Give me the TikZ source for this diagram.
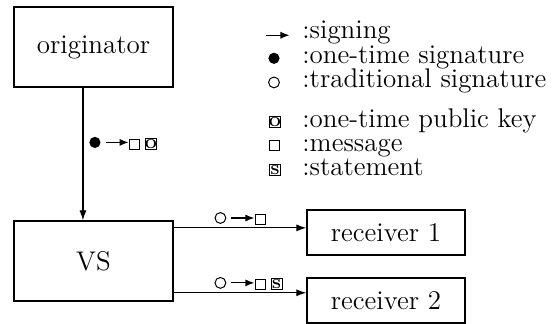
\documentclass[tikz,border=0pt]{standalone}
\usepackage{tikz}
\usetikzlibrary{arrows.meta, calc}

% little symbols used in the labels and in the legend
\newcommand{\signarrow}{\tikz[baseline=-0.6ex]\draw[line width=0.6pt,-{Latex[length=4.5pt,width=3.5pt]}] (0,0) -- (11.5pt,0);}
\newcommand{\otsig}{\tikz[baseline=-0.6ex]\fill (0,0) circle (2.8pt);}
\newcommand{\tradsig}{\tikz[baseline=-0.6ex]\draw[line width=0.5pt] (0,0) circle (2.7pt);}
\newcommand{\msgbox}{\tikz[baseline=0pt]\draw[line width=0.5pt] (0,0) rectangle (5pt,5pt);}
\newcommand{\letterbox}[1]{\tikz[baseline=0pt]{\draw[line width=0.5pt] (0,0) rectangle (5.6pt,5.6pt);
    \node[anchor=center, inner sep=0pt, font=\fontsize{6.5}{6.5}\selectfont\bfseries] at (2.8pt,2.8pt) {#1};}}
\newcommand{\keybox}{\letterbox{O}}
\newcommand{\stmtbox}{\letterbox{S}}

\tikzset{
    party-box/.style={
        draw, line width=0.6pt, inner sep=0pt, minimum width=79.5pt, minimum height=40pt
    },
    recv-box/.style={
        draw, line width=0.6pt, inner sep=0pt, minimum width=79pt, minimum height=22.5pt
    },
    flow/.style={
        line width=0.6pt, -{Latex[length=5pt,width=3.5pt]}
    },
    flow-label/.style={
        inner sep=1pt
    },
    legend-text/.style={
        anchor=west, inner sep=0pt, text height=1.4ex, text depth=0.1ex
    },
}

\begin{document}
\begin{tikzpicture}[x=0.5pt, y=-0.5pt, font=\fontsize{13.5}{15}\selectfont]

        \useasboundingbox (0,0) rectangle (554,324);

        % PARTIES
        \node[party-box] (ORIG) at (93.5,47)   {originator};
        \node[party-box] (VS)   at (93.5,261)  {VS};

        % RECEIVERS
        \node[recv-box]  (REC1) at (386,232.5) {receiver 1};
        \node[recv-box]  (REC2) at (386,300.5) {receiver 2};

        % CONNECTOR POINTS
        \coordinate (ORIGOUT) at ($(ORIG.south west)!0.434!(ORIG.south east)$);
        \coordinate (VSIN)    at ($(VS.north west)!0.434!(VS.north east)$);
        \coordinate (REC1IN)  at ($(REC1.north west)!0.4!(REC1.south west)$);
        \coordinate (REC2IN)  at ($(REC2.north west)!0.333!(REC2.south west)$);

        % ORIGINATOR TO VS
        \draw[flow] (ORIGOUT) -- (VSIN)
            node[flow-label, pos=0.42, anchor=west, xshift=2pt] {\otsig\,\signarrow\msgbox\,\keybox};

        % VS TO RECEIVERS
        \draw[flow] (VS.east |- REC1IN) -- (REC1IN)
            node[flow-label, pos=0.29, anchor=south west] {\tradsig\,\signarrow\msgbox};
        \draw[flow] (VS.east |- REC2IN) -- (REC2IN)
            node[flow-label, pos=0.29, anchor=south west] {\tradsig\,\signarrow\msgbox\,\stmtbox};

        % LEGEND
        \node (LSIGN)  at (278,37)  {\signarrow};
        \node (LOTS)   at (274,59)  {\otsig};
        \node (LTRAD)  at (274,83)  {\tradsig};
        \node (LKEY)   at (275,122) {\keybox};
        \node (LMSG)   at (275,146) {\msgbox};
        \node (LSTMT)  at (275,170) {\stmtbox};

        \node[legend-text] (TSIGN) at (302,33)  {:signing};
        \node[legend-text] (TOTS)  at (302,58)  {:one-time signature};
        \node[legend-text] (TTRAD) at (302,82)  {:traditional signature};
        \node[legend-text] (TKEY)  at (302,122) {:one-time public key};
        \node[legend-text] (TMSG)  at (302,146) {:message};
        \node[legend-text] (TSTMT) at (302,170) {:statement};

    \end{tikzpicture}
\end{document}
